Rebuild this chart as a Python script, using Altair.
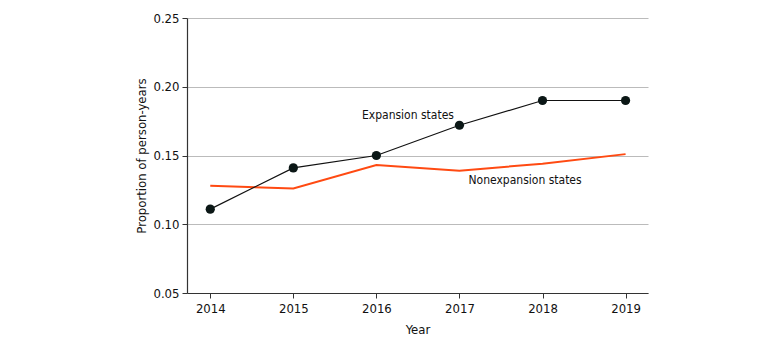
import altair as alt
import pandas as pd

years = [2014, 2015, 2016, 2017, 2018, 2019]
expansion = [0.111, 0.141, 0.150, 0.172, 0.190, 0.190]
nonexpansion = [0.128, 0.126, 0.143, 0.139, 0.144, 0.151]

FONT = "DejaVu Sans Condensed"

exp_df = pd.DataFrame({"year": years, "value": expansion})
non_df = pd.DataFrame({"year": years, "value": nonexpansion})
labels_df = pd.DataFrame({
    "year": [2016.38, 2017.79],
    "value": [0.1795, 0.1325],
    "text": ["Expansion states", "Nonexpansion states"],
})

x = alt.X(
    "year:Q",
    scale=alt.Scale(domain=[2013.72, 2019.27], nice=False, zero=False),
    axis=alt.Axis(values=years, format="d", title="Year", grid=False,
                  tickSize=5, labelPadding=4, titlePadding=8),
)
y = alt.Y(
    "value:Q",
    scale=alt.Scale(domain=[0.05, 0.25], nice=False, zero=False),
    axis=alt.Axis(values=[0.05, 0.10, 0.15, 0.20, 0.25], format=".2f",
                  title="Proportion of person-years", grid=True,
                  tickSize=5, labelPadding=3, titlePadding=4),
)

non_line = alt.Chart(non_df).mark_line(color="#ff4a12", strokeWidth=2).encode(x=x, y=y)
exp_line = alt.Chart(exp_df).mark_line(color="#111111", strokeWidth=1.2).encode(x=x, y=y)
exp_pts = alt.Chart(exp_df).mark_circle(color="#0b1716", opacity=1, size=85).encode(x=x, y=y)
labels = alt.Chart(labels_df).mark_text(font=FONT, fontSize=12, color="#111111").encode(
    x=x, y=y, text="text:N"
)

chart = (
    alt.layer(non_line, exp_line, exp_pts, labels)
    .properties(
        width=461,
        height=275,
        autosize=alt.AutoSizeParams(type="none"),
        padding={"left": 187, "top": 18, "right": 132, "bottom": 55},
    )
    .configure_view(stroke=None)
    .configure_axis(
        labelFont=FONT, titleFont=FONT, labelFontSize=13, titleFontSize=13,
        labelColor="#111111", titleColor="#111111", titleFontWeight="normal",
        domainColor="#333333", tickColor="#333333", gridColor="#bbbbbb",
        domainWidth=1.2, gridWidth=1.2,
    )
)

chart.save("out.html", embed_options={"renderer": "svg", "actions": False})
